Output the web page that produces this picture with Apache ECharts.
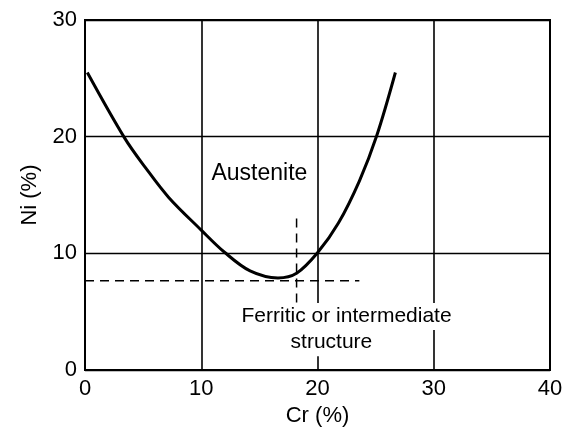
<!DOCTYPE html>
<html>
<head>
<meta charset="utf-8">
<script src="https://cdn.jsdelivr.net/npm/echarts@6/dist/echarts.min.js"></script>
<style>
  html, body { margin: 0; padding: 0; background: #fff; }
  #chart { width: 574px; height: 432px; }
</style>
</head>
<body>
<div id="chart"></div>
<script>
// boundary between austenite and ferritic / intermediate structure
const curveCr = [0.2, 3.4, 5.2, 7.2, 10, 12, 14.2, 16.6, 18.2, 20, 21.8, 23.6, 25.1, 26.7]
const curveNi = [25.5, 19.9, 17.35, 14.8, 12.0, 10.1, 8.5, 7.9, 8.3, 10.05, 12.6, 16.2, 20.1, 25.5]

// dashed guide lines
const hDashCr = [0, 23.6]
const hDashNi = [7.65, 7.65]
const vDashCr = [18.2, 18.2]
const vDashNi = [13.0, 5.5]

const xTicks = [0, 10, 20, 30, 40]
const yTicks = [0, 10, 20, 30]

const font = 'Liberation Sans, Arial, sans-serif'

const chart = echarts.init(document.getElementById('chart'))

const textLabel = (text, cr, ni, size) => ({
  type: 'scatter',
  symbolSize: 0,
  silent: true,
  z: 20,
  itemStyle: { opacity: 1, color: '#000' },
  data: [[cr, ni]],
  label: {
    show: true,
    position: 'inside',
    formatter: text,
    color: '#000',
    opacity: 1,
    textBorderWidth: 0,
    fontFamily: font,
    fontSize: size,
    backgroundColor: '#fff',
    padding: [3, 3]
  }
})

chart.setOption({
  animation: false,
  backgroundColor: '#fff',
  grid: {
    left: 85,
    right: 24,
    top: 20,
    bottom: 56,
    show: true,
    borderColor: '#000',
    borderWidth: 2
  },
  xAxis: {
    type: 'value',
    min: xTicks[0],
    max: xTicks[xTicks.length - 1],
    interval: 10,
    name: 'Cr (%)',
    nameLocation: 'middle',
    nameGap: 31,
    nameTextStyle: { color: '#000', fontFamily: font, fontSize: 22 },
    axisLine: { lineStyle: { color: '#000', width: 2 } },
    axisTick: { show: false },
    axisLabel: { color: '#000', fontFamily: font, fontSize: 22, margin: 8 },
    splitLine: { lineStyle: { color: '#000', width: 1.6 } }
  },
  yAxis: {
    type: 'value',
    min: yTicks[0],
    max: yTicks[yTicks.length - 1],
    interval: 10,
    name: 'Ni (%)',
    nameLocation: 'middle',
    nameGap: 44,
    nameTextStyle: { color: '#000', fontFamily: font, fontSize: 22 },
    axisLine: { lineStyle: { color: '#000', width: 2 } },
    axisTick: { show: false },
    axisLabel: { color: '#000', fontFamily: font, fontSize: 22, margin: 8 },
    splitLine: { lineStyle: { color: '#000', width: 1.3 } }
  },
  series: [
    {
      type: 'line',
      smooth: 0.35,
      symbol: 'none',
      z: 10,
      lineStyle: { color: '#000', width: 3 },
      data: curveCr.map((c, i) => [c, curveNi[i]])
    },
    {
      type: 'line',
      symbol: 'none',
      z: 9,
      lineStyle: { color: '#000', width: 1.5, type: [9, 6] },
      data: hDashCr.map((c, i) => [c, hDashNi[i]])
    },
    {
      type: 'line',
      symbol: 'none',
      z: 9,
      lineStyle: { color: '#000', width: 1.5, type: [9, 6] },
      data: vDashCr.map((c, i) => [c, vDashNi[i]])
    },
    textLabel('Austenite', 15.0, 16.8, 23),
    textLabel('Ferritic or intermediate', 22.5, 4.6, 21),
    textLabel('structure', 21.2, 2.35, 21)
  ]
})
</script>
</body>
</html>
